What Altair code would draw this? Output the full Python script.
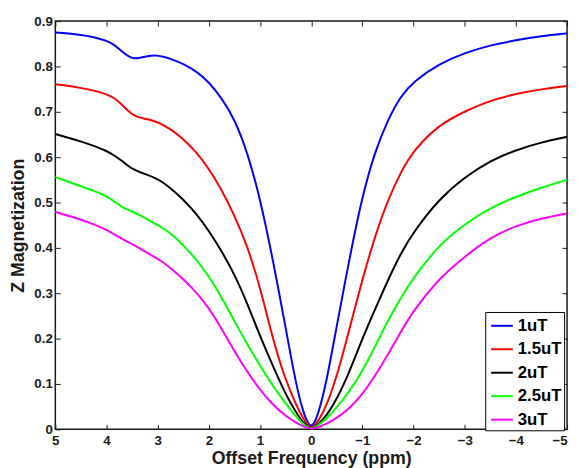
import altair as alt
import pandas as pd

# Offset frequency sample points (ppm)
ppm = [5, 4.5, 4.25, 4, 3.85, 3.7, 3.57, 3.45, 3.35, 3.2, 3.05, 2.9, 2.7, 2.5, 2.25, 2,
       1.75, 1.5, 1.25, 1, 0.75, 0.5, 0.3, 0.15, 0.05, 0, -0.05, -0.15, -0.3, -0.5,
       -0.75, -1, -1.25, -1.5, -1.75, -2, -2.5, -3, -3.5, -4, -4.5, -5]

z_1uT = [0.875, 0.870, 0.865, 0.857, 0.848, 0.833, 0.822, 0.817, 0.819, 0.823, 0.825,
         0.822, 0.815, 0.806, 0.790, 0.766, 0.730, 0.685, 0.612, 0.510, 0.375, 0.225,
         0.100, 0.035, 0.010, 0.008, 0.010, 0.038, 0.105, 0.228, 0.378, 0.515, 0.614,
         0.683, 0.735, 0.767, 0.806, 0.830, 0.847, 0.858, 0.867, 0.873]
z_1p5uT = [0.761, 0.753, 0.747, 0.739, 0.731, 0.716, 0.701, 0.691, 0.687, 0.684, 0.679,
           0.672, 0.658, 0.640, 0.612, 0.575, 0.528, 0.472, 0.405, 0.315, 0.198, 0.108,
           0.055, 0.022, 0.006, 0.004, 0.006, 0.020, 0.052, 0.115, 0.222, 0.331, 0.427,
           0.506, 0.567, 0.615, 0.672, 0.701, 0.725, 0.740, 0.750, 0.757]
z_2uT = [0.651, 0.635, 0.625, 0.614, 0.604, 0.592, 0.580, 0.572, 0.567, 0.561, 0.554,
         0.545, 0.527, 0.507, 0.476, 0.438, 0.393, 0.342, 0.278, 0.205, 0.140, 0.077,
         0.038, 0.013, 0.004, 0.003, 0.004, 0.012, 0.030, 0.066, 0.127, 0.200, 0.265,
         0.329, 0.388, 0.435, 0.508, 0.556, 0.592, 0.616, 0.633, 0.645]
z_2p5uT = [0.556, 0.536, 0.526, 0.514, 0.503, 0.490, 0.484, 0.478, 0.472, 0.463, 0.453,
           0.444, 0.428, 0.406, 0.375, 0.338, 0.291, 0.238, 0.188, 0.140, 0.096, 0.057,
           0.028, 0.011, 0.003, 0.002, 0.003, 0.010, 0.024, 0.048, 0.084, 0.128, 0.183,
           0.240, 0.290, 0.335, 0.407, 0.453, 0.488, 0.513, 0.533, 0.550]
z_3uT = [0.479, 0.463, 0.452, 0.440, 0.430, 0.420, 0.413, 0.405, 0.399, 0.389, 0.379,
         0.369, 0.351, 0.331, 0.303, 0.268, 0.222, 0.172, 0.127, 0.087, 0.054, 0.029,
         0.015, 0.006, 0.002, 0.002, 0.002, 0.005, 0.012, 0.025, 0.046, 0.077, 0.118,
         0.165, 0.215, 0.262, 0.333, 0.381, 0.423, 0.449, 0.465, 0.476]

series_names = ["1uT", "1.5uT", "2uT", "2.5uT", "3uT"]
series_colors = ["#0000ff", "#ff0000", "#000000", "#00ff00", "#ff00ff"]
x_ticks = [5, 4, 3, 2, 1, 0, -1, -2, -3, -4, -5]
y_ticks = [0, 0.1, 0.2, 0.3, 0.4, 0.5, 0.6, 0.7, 0.8, 0.9]

rows = []
for name, vals in zip(series_names, [z_1uT, z_1p5uT, z_2uT, z_2p5uT, z_3uT]):
    for xv, yv in zip(ppm, vals):
        rows.append({"ppm": xv, "z": yv, "series": name})
df = pd.DataFrame(rows)

FONT = "Liberation Sans"
xscale = alt.Scale(domain=[-5, 5], reverse=True, nice=False, zero=False)
yscale = alt.Scale(domain=[0, 0.9], nice=False)

lines = alt.Chart(df).mark_line(strokeWidth=2, interpolate="basis").encode(
    x=alt.X("ppm:Q", scale=xscale,
            axis=alt.Axis(orient="bottom", values=x_ticks, format="~g",
                          title="Offset Frequency (ppm)", offset=-5, tickSize=5,
                          domain=False, grid=False, labelPadding=4, titlePadding=3,
                          labelFlush=False,
                          labelAlign=alt.condition("datum.value == -5",
                                                   alt.value("right"),
                                                   alt.value("center")))),
    y=alt.Y("z:Q", scale=yscale,
            axis=alt.Axis(orient="left", values=y_ticks, format="~g",
                          title="Z Magnetization", offset=-5, tickSize=5,
                          domain=False, grid=False, labelPadding=3, titlePadding=7,
                          labelFlush=False)),
    color=alt.Color("series:N", sort=series_names,
                    scale=alt.Scale(domain=series_names, range=series_colors),
                    legend=alt.Legend(title=None, orient="none", legendX=436, legendY=295,
                                      direction="vertical", fillColor="white",
                                      strokeColor="black", padding=2,
                                      symbolType="stroke", symbolStrokeWidth=2,
                                      symbolSize=484, symbolOffset=3, rowPadding=3.8,
                                      labelOffset=4,
                                      labelFont=FONT, labelFontSize=17,
                                      labelFontWeight="bold", labelColor="black")),
)

frame = alt.Chart(df).mark_line(opacity=0).encode(
    x=alt.X("ppm:Q", scale=xscale,
            axis=alt.Axis(orient="top", values=x_ticks, labels=False, title=None,
                          offset=-5, tickSize=5, domain=False, grid=False)),
    y=alt.Y("z:Q", scale=yscale,
            axis=alt.Axis(orient="right", values=y_ticks, labels=False, title=None,
                          offset=-5, tickSize=5, domain=False, grid=False)),
    detail="series:N",
)

chart = alt.layer(lines, frame).resolve_axis(
    x="independent", y="independent"
).properties(
    width=519, height=414,
    autosize=alt.AutoSizeParams(type="none"),
    padding={"left": 48, "top": 10, "right": 4, "bottom": 40},
).configure_view(
    stroke="#1a1a1a", strokeWidth=1.5
).configure_axis(
    labelFont=FONT, labelFontSize=13.5, labelFontWeight="bold", labelColor="#1a1a1a",
    titleFont=FONT, titleFontSize=18, titleFontWeight="bold", titleColor="#1a1a1a",
    tickColor="#1a1a1a", tickWidth=1
)

chart.save("out.html", embed_options={"renderer": "svg", "actions": False})
